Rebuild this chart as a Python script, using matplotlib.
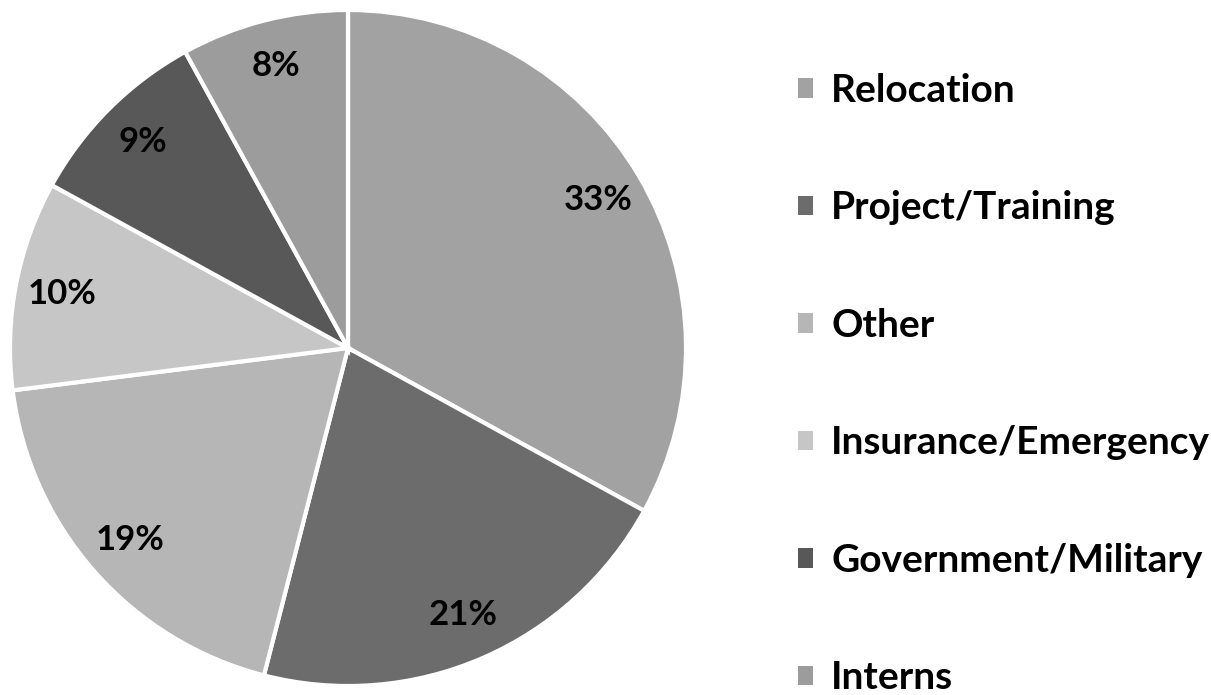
import matplotlib
matplotlib.use("Agg")
import matplotlib.pyplot as plt
from matplotlib.patches import Patch

categories = ["Relocation", "Project/Training", "Other", "Insurance/Emergency",
              "Government/Military", "Interns"]
values = [33, 21, 19, 10, 9, 8]
colors = ["#a2a2a2", "#6c6c6c", "#b6b6b6", "#c6c6c6", "#585858", "#9c9c9c"]

W, H = 1211, 695
fig = plt.figure(figsize=(W / 100, H / 100), dpi=100)
fig.patch.set_facecolor("white")

cx, cy, r = 348, 348, 338
ax = fig.add_axes([(cx - r) / W, (H - cy - r) / H, 2 * r / W, 2 * r / H])
wedges, texts, autotexts = ax.pie(
    values, colors=colors, startangle=90, counterclock=False,
    autopct=lambda p: f"{p:.0f}%", pctdistance=0.86, radius=1,
    wedgeprops=dict(edgecolor="white", linewidth=3),
    textprops=dict(fontsize=25, fontweight="bold", color="black", family="Lato"))
ax.set_xlim(-1, 1)
ax.set_ylim(-1, 1)
ax.set_aspect("equal")
ax.axis("off")

handles = [Patch(facecolor=c, edgecolor="none") for c in colors]
leg = fig.legend(handles, categories, loc="upper left",
                 bbox_to_anchor=(798 / W, 1 - 73 / H), frameon=False,
                 prop=dict(family="Lato", weight="bold", size=28),
                 handlelength=0.39, handleheight=0.39, handletextpad=0.46,
                 labelspacing=2.12, borderpad=0, borderaxespad=0)

fig.savefig("out.png", dpi=100)
